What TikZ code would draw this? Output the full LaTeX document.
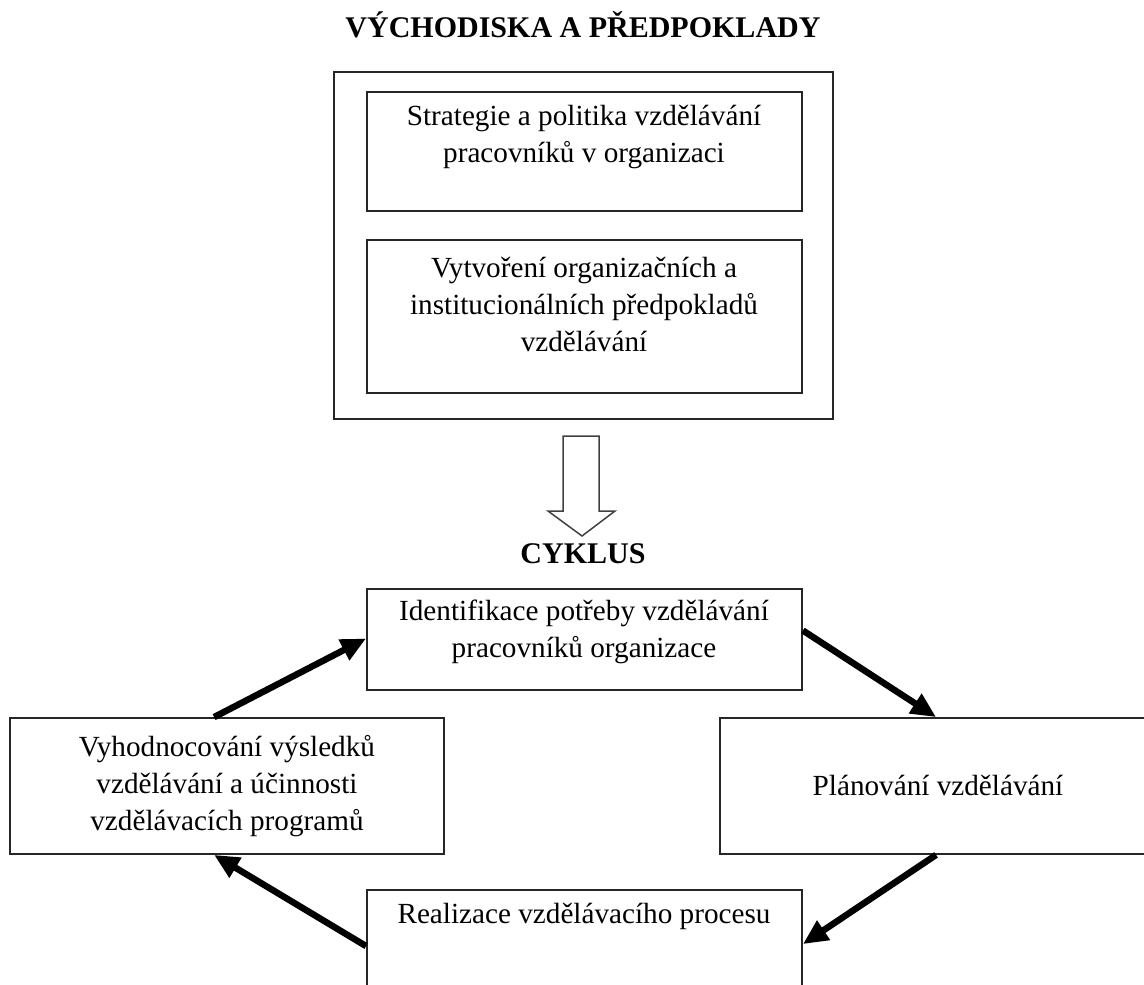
\documentclass[tikz,border=0pt]{standalone}
\usepackage{fontspec}
\setmainfont{Liberation Serif}
\usetikzlibrary{arrows.meta,calc}
\begin{document}
\begin{tikzpicture}[x=1pt,y=-1pt,
  box/.style={draw=black!85,line width=1.8pt,inner sep=0pt,rectangle},
  txt/.style={font=\fontsize{29.2}{37}\selectfont,align=center,inner sep=0pt,anchor=base},
  ttl/.style={font=\fontsize{30}{36}\selectfont\bfseries,inner sep=0pt,anchor=base},
  cyc/.style={-{Triangle[length=25pt,width=22pt]},line width=6.5pt}]
\useasboundingbox (0,0) rectangle (1144,985);
\clip (0,0) rectangle (1144,985);
% upper part
\node[ttl] (title) at (583,37) {VÝCHODISKA A PŘEDPOKLADY};
\node[box,minimum width=499pt,minimum height=347pt] (outer) at (583.5,245.5) {};
\node[box,minimum width=435pt,minimum height=119pt] (b1) at (584.5,151.5) {};
\node[box,minimum width=435pt,minimum height=153pt] (b2) at (584.5,316.5) {};
\node[txt] (t1) at (584,162) {Strategie a politika vzdělávání\\pracovníků v organizaci};
\node[txt] (t2) at (584,351) {Vytvoření organizačních a\\institucionálních předpokladů\\vzdělávání};
% hollow arrow
\draw[line width=1.5pt,draw=black!75,line join=miter] (563,436) -- (599,436) -- (599,511) -- (615,511) -- (582,536) -- (548,511) -- (563,511) -- cycle;
% cycle
\node[ttl] (cyk) at (583,563) {CYKLUS};
\node[box,minimum width=435pt,minimum height=101pt] (top) at (584.5,639.5) {};
\node[box,minimum width=434pt,minimum height=136pt] (left) at (227,786) {};
\node[box,minimum width=436pt,minimum height=136pt] (right) at (938,786) {};
\node[box,minimum width=435pt,minimum height=110pt] (bot) at (584.5,945) {};
\node[txt] (ttop) at (584,657) {Identifikace potřeby vzdělávání\\pracovníků organizace};
\node[txt] (tleft) at (227,830) {Vyhodnocování výsledků\\vzdělávání a účinnosti\\vzdělávacích programů};
\node[txt] (tright) at (938,795) {Plánování vzdělávání};
\node[txt] (tbot) at (584,923) {Realizace vzdělávacího procesu};
% cycle arrows
\draw[cyc] ($(top.east)+(0,-9)$) -- ($(right.north west)+(217,0)$);
\draw[cyc] ($(right.south west)+(217,0)$) -- ($(bot.north east)+(0,55)$);
\draw[cyc] ($(bot.north west)+(0,57)$) -- ($(left.south west)+(205,0)$);
\draw[cyc] ($(left.north west)+(205,0)$) -- ($(top.west)+(0,-1)$);
\end{tikzpicture}
\end{document}
